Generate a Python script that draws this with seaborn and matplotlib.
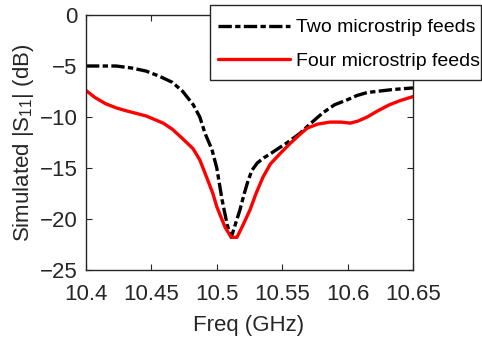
import matplotlib
matplotlib.use("Agg")
import matplotlib.pyplot as plt
from matplotlib.patches import Rectangle
import seaborn as sns
import numpy as np
import pandas as pd

# Data
freq_two = [10.400, 10.410, 10.423, 10.435, 10.446, 10.456, 10.466, 10.474, 10.482, 10.487,
            10.491, 10.4963, 10.500, 10.504, 10.508, 10.511, 10.514, 10.5177, 10.521, 10.524,
            10.527, 10.531, 10.536, 10.541, 10.548, 10.554, 10.5636, 10.572, 10.581, 10.590,
            10.600, 10.607, 10.615, 10.625, 10.635, 10.650]
s11_two = [-5.0, -5.0, -5.0, -5.2, -5.5, -6.0, -6.6, -7.5, -8.8, -10.0,
           -11.6, -13.2, -15.0, -18.1, -20.6, -21.8, -20.6, -19.1, -17.5, -16.2,
           -15.2, -14.5, -14.0, -13.6, -13.0, -12.5, -11.6, -10.6, -9.6, -8.8,
           -8.3, -7.9, -7.6, -7.45, -7.3, -7.15]

freq_four = [10.400, 10.407, 10.415, 10.423, 10.431, 10.446, 10.459, 10.466, 10.472, 10.4818,
             10.487, 10.4925, 10.497, 10.500, 10.5063, 10.5101, 10.5116, 10.5154, 10.520, 10.5254,
             10.530, 10.5353, 10.541, 10.5483, 10.556, 10.5636, 10.569, 10.577, 10.5865, 10.595,
             10.602, 10.608, 10.615, 10.623, 10.632, 10.640, 10.650]
s11_four = [-7.4, -8.1, -8.7, -9.1, -9.4, -9.9, -10.6, -11.2, -11.9, -13.1,
            -14.2, -16.0, -17.5, -18.8, -20.8, -21.6, -21.8, -21.8, -20.6, -19.1,
            -17.5, -15.9, -14.6, -13.6, -12.6, -11.7, -11.1, -10.7, -10.5, -10.5,
            -10.6, -10.4, -10.0, -9.4, -8.8, -8.4, -8.0]

labels = ["Two microstrip feeds", "Four microstrip feeds"]
x_ticks = [10.4, 10.45, 10.5, 10.55, 10.6, 10.65]
x_ticklabels = ["10.4", "10.45", "10.5", "10.55", "10.6", "10.65"]
y_ticks = [0, -5, -10, -15, -20, -25]

sns.set_style("white")
plt.rcParams['font.family'] = ['Liberation Sans', 'DejaVu Sans']
plt.rcParams['mathtext.fontset'] = 'custom'
plt.rcParams['mathtext.rm'] = 'Liberation Sans'
plt.rcParams['mathtext.it'] = 'Liberation Sans'

W, H = 482, 339
fig = plt.figure(figsize=(W / 100, H / 100), dpi=100)
ax = fig.add_axes([86/W, 1-270/H, (413-86)/W, (270-15)/H])

df_two = pd.DataFrame({"f": freq_two, "s": s11_two})
df_four = pd.DataFrame({"f": freq_four, "s": s11_four})

sns.lineplot(data=df_two, x="f", y="s", ax=ax, color="black", lw=2.4,
             label=labels[0], sort=False)
sns.lineplot(data=df_four, x="f", y="s", ax=ax, color="#ff0000", lw=2.4,
             label=labels[1], sort=False)
ax.lines[0].set_dashes((4.0, 1.0, 1.6, 1.0))

ax.set_xlim(10.4, 10.65)
ax.set_ylim(-25, 0)
ax.set_xticks(x_ticks)
ax.set_xticklabels(x_ticklabels)
ax.set_yticks(y_ticks)

tc = "#262626"
for sp in ax.spines.values():
    sp.set_visible(True)
    sp.set_color(tc)
    sp.set_linewidth(1.0)
ax.tick_params(direction="in", length=4, width=0.8, colors=tc, labelsize=16,
               top=True, right=True, bottom=True, left=True)
ax.tick_params(axis="x", pad=10)
ax.tick_params(axis="y", pad=6)

ax.set_xlabel("Freq (GHz)", fontsize=16, color=tc, va="center")
ax.set_ylabel("Simulated |S$_{11}$| (dB)", fontsize=16, color=tc, va="center")
ax.xaxis.set_label_coords((249 - 86) / 327, (270 - 325) / 255)
ax.yaxis.set_label_coords((24 - 86) / 327, (270 - 143) / 255)

# legend frame drawn as a separate box (white background, dark edge)
frame = Rectangle((209.5/W, 1-80/H), (481-209.5)/W, (80-4.5)/H,
                  transform=fig.transFigure, facecolor="white",
                  edgecolor=tc, linewidth=1.0, zorder=4)
fig.add_artist(frame)

ax.get_legend().remove()
h, l = ax.get_legend_handles_labels()
leg = fig.legend(h, l, loc="upper left", bbox_to_anchor=(209/W, 1-10/H),
                 fontsize=14, frameon=False, handlelength=3.7, handletextpad=0.3,
                 borderpad=0.45, labelspacing=0.8, borderaxespad=0)
leg.set_zorder(5)
for t in leg.get_texts():
    t.set_color("black")

fig.savefig("out.png", dpi=100)
